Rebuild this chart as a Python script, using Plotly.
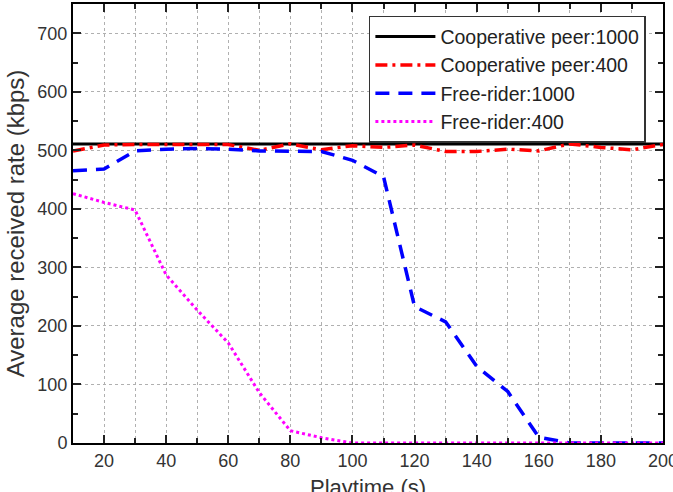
import plotly.graph_objects as go

playtime = [10, 20, 30, 40, 50, 60, 70, 80, 90, 100, 110, 120, 130, 140, 150, 160, 170, 180, 190, 200]
coop_1000 = [511] * 20
coop_400 = [499, 509, 510, 510, 510, 510, 500, 511, 501, 508, 505, 509, 498, 498, 502, 499, 511, 505, 501, 510]
free_1000 = [465, 468, 499, 502, 503, 502, 499, 499, 498, 483, 455, 233, 207, 131, 88, 10, 0, 0, 0, 0]
free_400 = [426, 411, 398, 287, 227, 171, 86, 21, 9, 0, 0, 0, 0, 0, 0, 0, 0, 0, 0, 0]

names = ["Cooperative peer:1000", "Cooperative peer:400", "Free-rider:1000", "Free-rider:400"]
series = [coop_1000, coop_400, free_1000, free_400]
colors = ["#000000", "#FF0000", "#0000FF", "#FF00FF"]
dashes = ["solid", "12px,5px,3px,5px", "14px,9px", "3px,3px"]
widths = [3, 3.5, 3.5, 3]

FONT = "Liberation Sans, Arial, sans-serif"

fig = go.Figure()
for n, s, c, d, w in zip(names, series, colors, dashes, widths):
    fig.add_trace(go.Scatter(x=playtime, y=s, mode="lines", name=n,
                             line=dict(color=c, dash=d, width=w)))

axis_common = dict(
    showline=True, linecolor="black", linewidth=2, mirror="allticks",
    ticks="inside", ticklen=8, tickwidth=2, tickcolor="#222",
    showgrid=True, gridcolor="#b0b0b0", griddash="dot", gridwidth=1,
    zeroline=False, tickfont=dict(family=FONT, size=18, color="#333"),
    automargin=False, ticklabeloverflow="allow",
)

fig.update_layout(
    width=673, height=492,
    margin=dict(l=73, r=10, t=4, b=49),
    paper_bgcolor="white", plot_bgcolor="white",
    font=dict(family=FONT, color="#333"),
    showlegend=True,
    legend=dict(x=0.971, y=0.973, xanchor="right", yanchor="top",
                bgcolor="white", bordercolor="#333", borderwidth=1.5,
                font=dict(family=FONT, size=19.5, color="#222"),
                itemwidth=60, tracegroupgap=0),
    xaxis=dict(range=[10, 200], tick0=0, dtick=20,
               minor=dict(dtick=10, ticks="inside", ticklen=5, tickwidth=2, tickcolor="#222",
                          showgrid=True, gridcolor="#b0b0b0", griddash="dot"),
               **axis_common),
    yaxis=dict(range=[0, 750], tick0=0, dtick=100,
               minor=dict(dtick=50, ticks="inside", ticklen=5, tickwidth=2, tickcolor="#222", showgrid=False),
               title=dict(text="Average received rate (kbps)", font=dict(family=FONT, size=24, color="#333"), standoff=6),
               **axis_common),
    annotations=[dict(text="Playtime (s)", xref="paper", yref="paper", x=0.5, y=0,
                      xanchor="center", yanchor="middle", yshift=-44, showarrow=False,
                      font=dict(family=FONT, size=22, color="#333"))],
)

fig.write_html("out.html")
